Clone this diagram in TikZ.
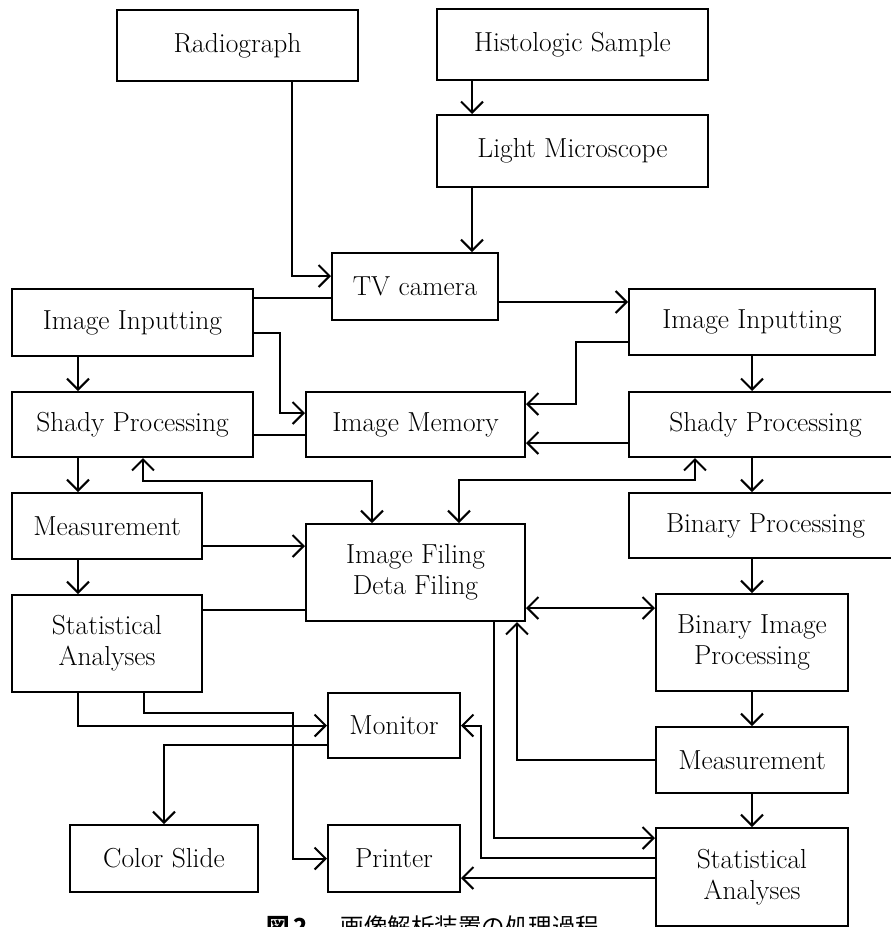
\documentclass[tikz,border=0pt]{standalone}
\usepackage{fontspec}
\usepackage{tikz}
\usetikzlibrary{
    arrows.meta
}
\newfontfamily\cjk{Noto Sans CJK JP}

\begin{document}
\begin{tikzpicture}[x=1pt, y=-1pt, line width=2pt,
    >={Straight Barb[length=11pt, width=22pt]},
    blk/.style={draw, inner sep=0pt, align=center,
        font=\fontsize{27.5}{31}\selectfont\addfontfeatures{WordSpace=1.45, FakeBold=0.4}}]
                        \useasboundingbox (0, 0) rectangle (891, 927);
                        \node[blk, minimum width=241pt, minimum height=71pt] (radio) at (237.5, 45.5) {Radiograph};
                        \node[blk, minimum width=271pt, minimum height=71pt] (histo) at (572.5, 44.5) {Histologic Sample};
                        \node[blk, minimum width=271pt, minimum height=72pt] (micro) at (572.5, 151) {Light Microscope};
                        \node[blk, minimum width=166pt, minimum height=67pt] (tv) at (415, 286.5) {TV camera};
                        \node[blk, minimum width=241pt, minimum height=67pt] (inL) at (132.5, 322.5) {Image Inputting};
                        \node[blk, minimum width=246pt, minimum height=66pt] (inR) at (752, 322) {Image Inputting};
                        \node[blk, minimum width=241pt, minimum height=65pt] (shL) at (132.5, 424.5) {Shady Processing};
                        \node[blk, minimum width=219pt, minimum height=65pt] (memo) at (415.5, 424.5) {Image Memory};
                        \node[blk, minimum width=273pt, minimum height=65pt] (shR) at (765.5, 424.5) {Shady Processing};
                        \node[blk, minimum width=273pt, minimum height=65pt] (bin) at (765.5, 525.5) {Binary Processing};
                        \node[blk, minimum width=190pt, minimum height=66pt] (measL) at (107, 526) {Measurement};
                        \node[blk, minimum width=219pt, minimum height=97pt] (filing) at (415.5, 572.5) {Image Filing\\Deta Filing};
                        \node[blk, minimum width=190pt, minimum height=97pt] (statL) at (107, 643.5) {Statistical\\Analyses};
                        \node[blk, minimum width=192pt, minimum height=97pt] (bip) at (752, 642.5) {Binary Image\\Processing};
                        \node[blk, minimum width=192pt, minimum height=66pt] (measR) at (752, 760) {Measurement};
                        \node[blk, minimum width=192pt, minimum height=98pt] (statR) at (752, 877) {Statistical\\Analyses};
                        \node[blk, minimum width=132pt, minimum height=65pt] (monitor) at (394, 725.5) {Monitor};
                        \node[blk, minimum width=188pt, minimum height=67pt] (slide) at (164, 858.5) {Color Slide};
                        \node[blk, minimum width=132pt, minimum height=67pt] (printer) at (394, 858.5) {Printer};
                        \node[anchor=base west, inner sep=0pt, font=\cjk\fontsize{23.5}{24}\selectfont] (caption) at (265, 935) {{\bfseries 図\,2}\hspace{1.4em}画像解析装置の処理過程};
                        % straight links
                        \draw
                        ([xshift=-100.5pt]histo.south) edge[->] ([xshift=-100.5pt]micro.north)
                        ([xshift=-100.5pt]micro.south) edge[->] ([xshift=57pt]tv.north)
                        ([yshift=24.5pt]inL.east) edge ([yshift=-11.5pt]tv.west)
                        ([yshift=-15.5pt]tv.east) edge[->] ([yshift=20pt]inR.west)
                        ([yshift=-18.5pt]shR.west) edge[->] ([yshift=-18.5pt]memo.east)
                        ([yshift=-10.5pt]shL.east) edge ([yshift=-10.5pt]memo.west)
                        ([xshift=-54.5pt]inL.south) edge[->] ([xshift=-54.5pt]shL.north)
                        ([xshift=-54.5pt]shL.south) edge[->] ([xshift=-29pt]measL.north)
                        ([xshift=-29pt]measL.south) edge[->] ([xshift=-29pt]statL.north)
                        ([yshift=-20pt]measL.east) edge[->] ([yshift=26.5pt]filing.west)
                        ([yshift=33.5pt]statL.east) edge ([yshift=-37.5pt]filing.west)
                        (inR.south) edge[->] ([xshift=-13.5pt]shR.north)
                        ([xshift=-13.5pt]shR.south) edge[->] ([xshift=-13.5pt]bin.north)
                        ([xshift=-13.5pt]bin.south) edge[->] (bip.north)
                        ([yshift=-35.5pt]filing.east) edge[<->] ([yshift=34.5pt]bip.west)
                        (bip.south) edge[->] (measR.north)
                        (measR.south) edge[->] (statR.north)
                        ([yshift=-1pt]statR.west) edge[->] ([yshift=-19.5pt]printer.east);
                        % bent links
                        \draw[->] ([xshift=54.5pt]radio.south) |- ([yshift=10.5pt]tv.west);
                        \draw[->] ([yshift=-10.5pt]inL.east) -- ++(26pt, 0) |- ([yshift=11.5pt]memo.west);
                        \draw[->] ([yshift=-20pt]inR.west) -- ++(-52pt, 0) |- ([yshift=20.5pt]memo.east);
                        \draw[<->] ([xshift=10.5pt]shL.south) -- ++(0, -23pt) -| ([xshift=-43.5pt]filing.north);
                        \draw[<->] ([xshift=-70.5pt]shR.south) -- ++(0, -22pt) -| ([xshift=43.5pt]filing.north);
                        \draw[->] (measR.west) -| ([xshift=101.5pt]filing.south);
                        \draw[->] ([xshift=78.5pt]filing.south) |- ([yshift=39pt]statR.west);
                        \draw[->] ([yshift=19pt]statR.west) -- ++(-174pt, 0) |- (monitor.east);
                        \draw[->] ([xshift=-29pt]statL.south) |- (monitor.west);
                        \draw[->] ([xshift=37pt]statL.south) -- ++(0, -20pt) -- ++(149pt, 0) |- (printer.west);
                        \draw[->] ([yshift=-19.5pt]monitor.west) -| (slide.north);
                    \end{tikzpicture}
\end{document}
